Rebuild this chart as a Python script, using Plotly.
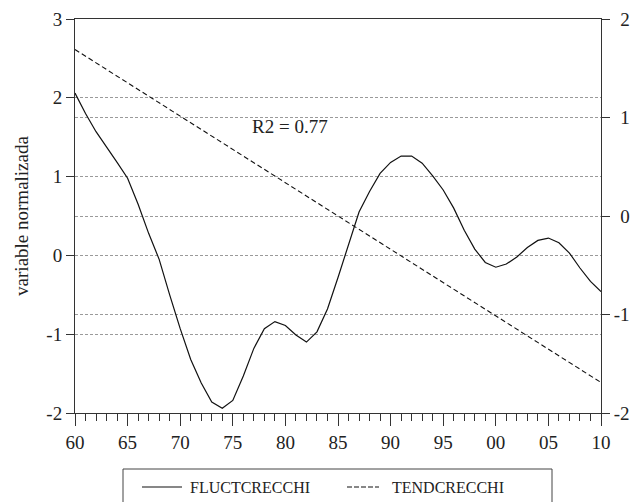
import plotly.graph_objects as go

years = list(range(1960, 2011))
fluct = [2.06, 1.80, 1.57, 1.38, 1.18, 0.98, 0.65, 0.28, -0.05, -0.50,
         -0.93, -1.32, -1.62, -1.86, -1.94, -1.84, -1.53, -1.18, -0.93, -0.84,
         -0.89, -1.01, -1.10, -0.97, -0.68, -0.28, 0.15, 0.55, 0.81, 1.04,
         1.18, 1.26, 1.26, 1.17, 1.01, 0.83, 0.60, 0.32, 0.08, -0.09,
         -0.15, -0.11, -0.02, 0.10, 0.19, 0.22, 0.16, 0.03, -0.16, -0.33,
         -0.46]
trend_years = [1960, 2010]
trend = [1.69, -1.69]

x_tickvals = [1960, 1965, 1970, 1975, 1980, 1985, 1990, 1995, 2000, 2005, 2010]
x_ticktext = ["60", "65", "70", "75", "80", "85", "90", "95", "00", "05", "10"]
y1_ticks = [-2, -1, 0, 1, 2, 3]
y1_text = ["-2", "-1", "0", "1", "2", "3"]
y2_ticks = [-2, -1, 0, 1, 2]
y2_text = ["-2", "-1", "\u20040", "\u20041", "\u20042"]

FONT = "Liberation Serif"
INK = "#222222"
GRID = "#9a9a9a"

W, H = 632, 502
L, R, T, B = 75, W - 601, 19, H - 413

fig = go.Figure()
fig.add_trace(go.Scatter(x=years, y=fluct, mode="lines", name="FLUCTCRECCHI",
                         line=dict(color="#111111", width=1.2), yaxis="y"))
fig.add_trace(go.Scatter(x=trend_years, y=trend, mode="lines", name="TENDCRECCHI",
                         line=dict(color="#111111", width=1.1, dash="5px,3px"), yaxis="y2"))

fig.update_layout(
    width=W, height=H,
    margin=dict(l=L, r=R, t=T, b=B, autoexpand=False),
    paper_bgcolor="white", plot_bgcolor="white",
    showlegend=False,
    font=dict(family=FONT, size=19, color=INK),
    xaxis=dict(range=[1960, 2010], tickmode="array", tickvals=x_tickvals, ticktext=x_ticktext,
               showline=True, linecolor="#333", linewidth=1, mirror=True,
               ticks="outside", ticklen=12, tickcolor="#333", tickwidth=1,
               showgrid=False, zeroline=False, automargin=False,
               minor=dict(ticks="outside", ticklen=7, tick0=1960, dtick=1,
                          tickcolor="#333", tickwidth=1, showgrid=False),
               tickfont=dict(size=19)),
    yaxis=dict(range=[-2, 3], tickmode="array", tickvals=y1_ticks, ticktext=y1_text,
               showline=True, linecolor="#333", linewidth=1,
               ticks="outside", ticklen=8, tickcolor="#333",
               showgrid=True, gridcolor=GRID, griddash="3px,2px", gridwidth=1,
               zeroline=False, automargin=False,
               title=dict(text="variable normalizada", font=dict(size=19), standoff=12)),
    yaxis2=dict(range=[-2, 2], tickmode="array", tickvals=y2_ticks, ticktext=y2_text,
                overlaying="y", side="right",
                showline=True, linecolor="#333", linewidth=1,
                ticks="outside", ticklen=8, tickcolor="#333",
                showgrid=True, gridcolor=GRID, griddash="3px,2px", gridwidth=1,
                zeroline=False, automargin=False),
)

fig.add_annotation(x=1980.4, y=1.63, xref="x", yref="y", text="R2 = 0.77",
                   showarrow=False, font=dict(size=19, family=FONT, color=INK))

# legend box drawn manually (positions in page pixels)
PW = W - L - R
PH = H - T - B
def px(xp):
    return (xp - L) / PW
def py(yp):
    return (H - B - yp) / PH

fig.add_shape(type="rect", xref="paper", yref="paper", x0=px(123), x1=px(552), y0=py(469), y1=py(520),
              line=dict(color="#444", width=1), fillcolor="rgba(0,0,0,0)")
fig.add_shape(type="line", xref="paper", yref="paper", x0=px(142), x1=px(182), y0=py(487), y1=py(487),
              line=dict(color="#111", width=1.2))
fig.add_shape(type="line", xref="paper", yref="paper", x0=px(347), x1=px(379), y0=py(487), y1=py(487),
              line=dict(color="#111", width=1.1, dash="5px,2px"))
fig.add_annotation(x=px(188), y=py(487), xref="paper", yref="paper", text="FLUCTCRECCHI",
                   xanchor="left", yanchor="middle", showarrow=False,
                   font=dict(size=16, family=FONT, color=INK))
fig.add_annotation(x=px(390), y=py(487), xref="paper", yref="paper", text="TENDCRECCHI",
                   xanchor="left", yanchor="middle", showarrow=False,
                   font=dict(size=16, family=FONT, color=INK))

fig.write_html("out.html", config={"displayModeBar": False},
               post_script="document.body.style.margin='0';document.body.style.overflow='hidden';")
